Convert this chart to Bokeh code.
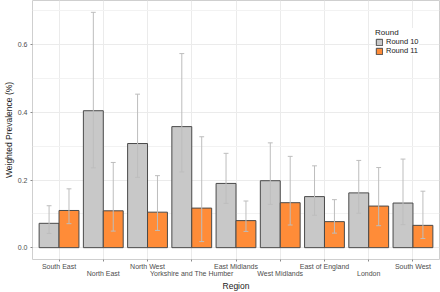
from bokeh.plotting import figure
from bokeh.models import (Range1d, FixedTicker, Legend, LegendItem, ColumnDataSource)
from bokeh.embed import file_html
from bokeh.resources import INLINE

regions = ["South East", "North East", "North West", "Yorkshire and The Humber",
           "East Midlands", "West Midlands", "East of England", "London", "South West"]
r10 = [0.072, 0.405, 0.308, 0.358, 0.190, 0.198, 0.151, 0.162, 0.132]
r10_lo = [0.042, 0.236, 0.208, 0.224, 0.131, 0.128, 0.096, 0.102, 0.068]
r10_hi = [0.124, 0.696, 0.454, 0.574, 0.279, 0.310, 0.242, 0.258, 0.262]
r11 = [0.110, 0.109, 0.105, 0.117, 0.080, 0.133, 0.077, 0.123, 0.066]
r11_lo = [0.071, 0.049, 0.051, 0.018, 0.048, 0.067, 0.043, 0.065, 0.027]
r11_hi = [0.174, 0.252, 0.213, 0.328, 0.138, 0.270, 0.142, 0.237, 0.167]
y_ticks = [0.0, 0.2, 0.4, 0.6]
y_minor = [0.1, 0.3, 0.5, 0.7]

FONT = "Liberation Sans"
GREY = "#C8C8C8"
ORANGE = "#FF8C38"
EDGE = "#4A4A4A"
ERR = "#BDBDBD"

n = len(regions)
idx = [i + 1 for i in range(n)]
bw = 0.45
cap = 0.055

FW, FH = 407, 259
p = figure(frame_width=FW, frame_height=FH, output_backend="svg", toolbar_location=None,
           x_range=Range1d(0.4, n + 0.6), y_range=Range1d(-0.035, 0.731),
           min_border_left=0, min_border_right=2, min_border_top=0, min_border_bottom=0)
p.background_fill_color = "white"
p.border_fill_color = "white"
p.outline_line_color = "#CFCFCF"
p.outline_line_width = 1

def src(vals, lo, hi, off):
    xs = [i + off for i in idx]
    return ColumnDataSource(dict(x=xs, top=vals, lo=lo, hi=hi,
                                 cl=[x - cap for x in xs], cr=[x + cap for x in xs]))

s10 = src(r10, r10_lo, r10_hi, -bw / 2)
s11 = src(r11, r11_lo, r11_hi, bw / 2)

b10 = p.vbar(x="x", top="top", bottom=0, width=bw, source=s10,
             fill_color=GREY, line_color=EDGE, line_width=1)
b11 = p.vbar(x="x", top="top", bottom=0, width=bw, source=s11,
             fill_color=ORANGE, line_color=EDGE, line_width=1)
for s in (s10, s11):
    p.segment(x0="x", y0="lo", x1="x", y1="hi", source=s, line_color=ERR, line_width=1)
    p.segment(x0="cl", y0="lo", x1="cr", y1="lo", source=s, line_color=ERR, line_width=1)
    p.segment(x0="cl", y0="hi", x1="cr", y1="hi", source=s, line_color=ERR, line_width=1)

# axes
p.xaxis.ticker = FixedTicker(ticks=idx)
p.xaxis.major_label_overrides = {i: (r if k % 2 == 0 else "\n" + r)
                                 for k, (i, r) in enumerate(zip(idx, regions))}
p.yaxis.ticker = FixedTicker(ticks=y_ticks, minor_ticks=y_minor)
p.yaxis.major_label_overrides = {t: f"{t:.1f}" for t in y_ticks}
for ax in (p.xaxis, p.yaxis):
    ax.axis_line_color = None
    ax.major_tick_line_color = "#8A8A8A"
    ax.major_tick_out = 2
    ax.major_tick_in = 0
    ax.minor_tick_line_color = None
    ax.major_label_text_font = FONT
    ax.major_label_text_font_size = "7px"
    ax.major_label_text_color = "#4D4D4D"
    ax.major_label_text_line_height = 1.0
    ax.major_label_standoff = 1
    ax.axis_label_text_font = FONT
    ax.axis_label_text_font_size = "8.5px"
    ax.axis_label_text_font_style = "normal"
    ax.axis_label_text_color = "#1A1A1A"
    ax.axis_label_standoff = 1
p.xaxis.axis_label = "Region"
p.yaxis.axis_label = "Weighted Prevalence (%)"

p.xgrid.grid_line_color = "#EBEBEB"
p.ygrid.grid_line_color = "#EBEBEB"
p.ygrid.minor_grid_line_color = "#F2F2F2"
p.xgrid.grid_line_width = 1
p.ygrid.grid_line_width = 1

legend = Legend(items=[LegendItem(label="Round 10", renderers=[b10]),
                       LegendItem(label="Round 11", renderers=[b11])],
                location=(FW - 64, FH - 55), title="Round")
legend.title_text_font = FONT
legend.title_text_font_size = "8px"
legend.title_text_font_style = "normal"
legend.title_text_color = "#1A1A1A"
legend.title_standoff = 0
legend.label_text_font = FONT
legend.label_text_font_size = "7.5px"
legend.label_text_color = "#1A1A1A"
legend.glyph_width = 8
legend.glyph_height = 8
legend.label_height = 8
legend.label_standoff = 3
legend.spacing = 0
legend.padding = 4
legend.margin = 0
legend.border_line_color = None
legend.background_fill_color = "white"
legend.background_fill_alpha = 1
p.add_layout(legend)

open("out.html", "w").write(file_html(p, INLINE))
